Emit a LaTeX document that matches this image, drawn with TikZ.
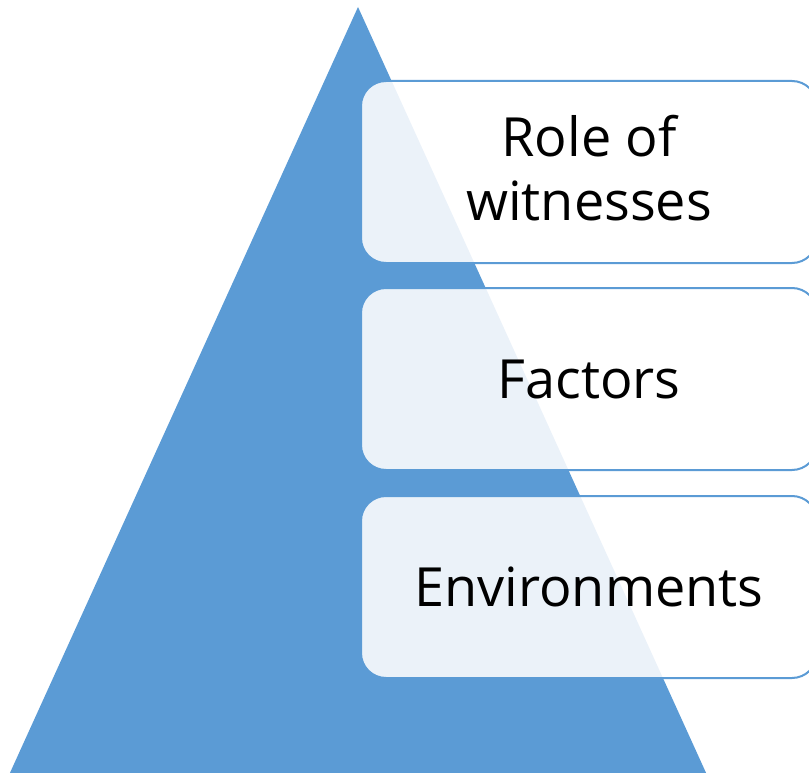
\documentclass[tikz,border=0pt]{standalone}
\usepackage{fontspec}
\setmainfont{Open Sans}
\definecolor{pyblue}{HTML}{5B9BD5}
\begin{document}
\begin{tikzpicture}[x=1pt,y=-1pt,
  tier/.style={draw=pyblue,line width=2pt,fill=white,fill opacity=0.88,text opacity=1,
    rounded corners=25pt,minimum width=456pt,minimum height=182pt,anchor=north west,
    inner sep=0pt,font=\fontsize{54}{64}\selectfont,align=center,text=black}]
\useasboundingbox (0,0) rectangle (809,773);
\clip (0,0) rectangle (809,773);
\fill[pyblue] (358,7) -- (707,775) -- (9,775) -- cycle;
\node[tier] (t1) at (360,80) {Role of\\witnesses\\[-56pt]\mbox{}};
\node[tier] (t2) at (360,287) {Factors};
\node[tier] (t3) at (360,495) {Environments};
\end{tikzpicture}
\end{document}
